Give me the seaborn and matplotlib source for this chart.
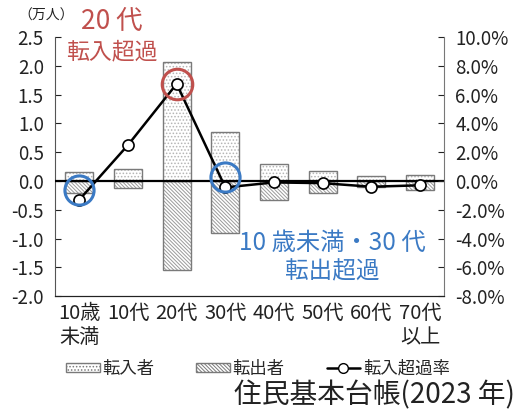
import numpy as np
import pandas as pd
import matplotlib
matplotlib.use("Agg")
import matplotlib.pyplot as plt
import matplotlib.transforms as mtransforms
from matplotlib.ticker import FuncFormatter
from matplotlib.lines import Line2D
from matplotlib.patches import Patch, Rectangle
import seaborn as sns

# data (万人 / %)
categories = ["10歳\n未満", "10代", "20代", "30代", "40代", "50代", "60代", "70代\n以上"]
tennyu = [0.15, 0.21, 2.06, 0.85, 0.29, 0.18, 0.09, 0.11]
tenshutsu = [-0.21, -0.13, -1.54, -0.91, -0.33, -0.21, -0.10, -0.16]
rate = [-1.3, 2.5, 6.75, -0.45, -0.1, -0.15, -0.4, -0.3]

df = pd.DataFrame({"age": categories, "in": tennyu, "out": tenshutsu, "rate": rate})

sns.set_style("white")
plt.rcParams["font.family"] = ["Noto Sans CJK JP", "DejaVu Sans"]
plt.rcParams["hatch.linewidth"] = 0.7

red = "#c0504d"
blue = "#3b7ac4"
edge = "#7a7a7a"
dot_hatch = "....."
line_hatch = "\\" * 9

fig = plt.figure(figsize=(5.19, 4.17), dpi=100)
ax = fig.add_axes([0.106, 0.290, 0.750, 0.621])

sns.barplot(data=df, x="age", y="in", ax=ax, color="white", width=0.58,
            edgecolor="#b5b5b5", linewidth=0, hatch=dot_hatch)
sns.barplot(data=df, x="age", y="out", ax=ax, color="white", width=0.58,
            edgecolor="#9a9a9a", linewidth=0, hatch=line_hatch)
# outlines on top of the hatched fills
for p in list(ax.patches):
    ax.add_patch(Rectangle(p.get_xy(), p.get_width(), p.get_height(), fill=False,
                           edgecolor=edge, lw=1.0, zorder=p.get_zorder() + 0.1))
ax.axhline(0, color="black", lw=1.6, zorder=3)

ax.set_ylim(-2.0, 2.5)
ax.set_yticks(np.arange(-2.0, 2.51, 0.5))
ax.yaxis.set_major_formatter(FuncFormatter(lambda v, p: f"{v:.1f}"))
ax.set_xlabel("")
ax.set_ylabel("")
ax.set_xlim(-0.5, len(categories) - 0.5)

ax2 = ax.twinx()
xs = np.arange(len(categories))
sns.lineplot(x=xs, y=rate, ax=ax2, color="black", lw=1.8, marker="o", ms=8,
             markerfacecolor="white", markeredgecolor="black", markeredgewidth=1.2, zorder=5)
ax2.set_ylim(-8, 10)
ax2.set_yticks(np.arange(-8, 10.1, 2))
ax2.yaxis.set_major_formatter(FuncFormatter(lambda v, p: f"{v:.1f}%"))
ax2.set_xlim(-0.5, len(categories) - 0.5)

# highlight circles
up = mtransforms.ScaledTranslation(0, 10 / 100, fig.dpi_scale_trans)
ax2.plot(xs[2], rate[2], "o", ms=22, mfc="none", mec=red, mew=2.2, zorder=6)
ax2.plot([xs[0], xs[3]], [rate[0], rate[3]], "o", ms=21, mfc="none", mec=blue, mew=2.2,
         zorder=6, transform=ax2.transData + up)

for a in (ax, ax2):
    a.tick_params(direction="in", length=4, labelsize=13.5, pad=8, colors="#222222")
    for s in a.spines.values():
        s.set_visible(False)
ax.tick_params(axis="x", length=0, pad=5, labelsize=14.5)
ax.spines["left"].set_visible(True)
ax.spines["left"].set_color("#555555")
ax.spines["bottom"].set_visible(True)
ax.spines["bottom"].set_color("#222222")
ax2.spines["right"].set_visible(True)
ax2.spines["right"].set_color("#777777")
ax2.spines["bottom"].set_visible(True)
ax2.spines["bottom"].set_color("#222222")

fig.text(0.035, 0.962, "（万人）", fontsize=10, ha="left", va="center", color="#222222")
fig.text(0.215, 0.948, "20 代", fontsize=19, color=red, ha="center", va="center")
fig.text(0.215, 0.876, "転入超過", fontsize=16.5, color=red, ha="center", va="center")
fig.text(0.640, 0.418, "10 歳未満・30 代", fontsize=17.5, color=blue, ha="center", va="center")
fig.text(0.640, 0.348, "転出超過", fontsize=17, color=blue, ha="center", va="center")

handles = [
    Patch(facecolor="white", edgecolor=edge, hatch=dot_hatch, label="転入者"),
    Patch(facecolor="white", edgecolor=edge, hatch=line_hatch, label="転出者"),
    Line2D([], [], color="black", lw=1.8, marker="o", ms=7, mfc="white", mec="black", label="転入超過率"),
]
fig.legend(handles=handles, loc="center", bbox_to_anchor=(0.497, 0.116), ncol=3, frameon=False,
           fontsize=12.5, handlelength=1.95, handleheight=0.45, columnspacing=2.4, handletextpad=0.15)

fig.text(0.993, 0.052, "住民基本台帳(2023 年)", fontsize=20, ha="right", va="center", color="#222222")

fig.savefig("out.png", dpi=100)
